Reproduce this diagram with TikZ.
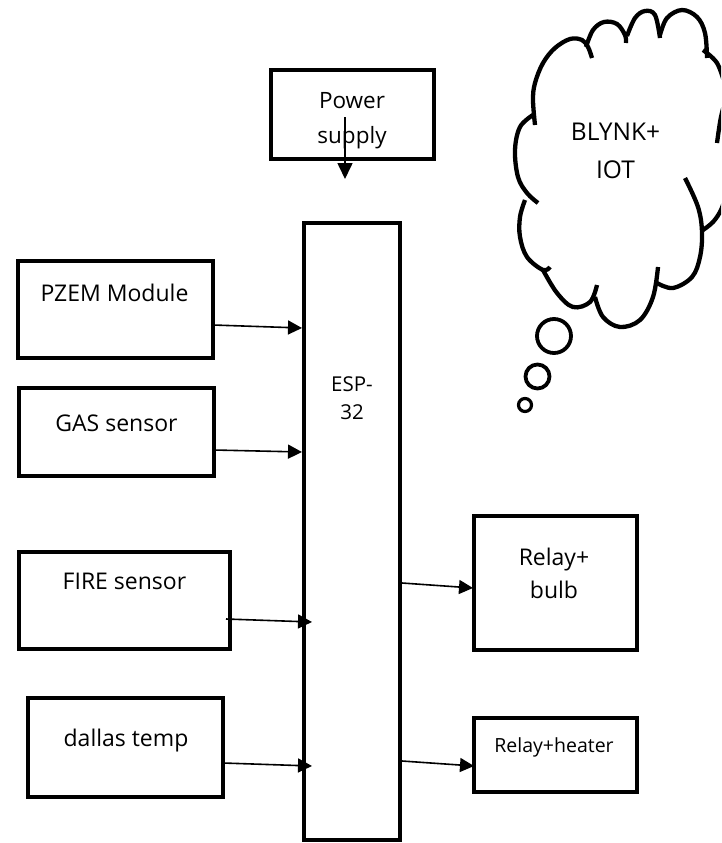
\documentclass[tikz,border=0pt]{standalone}
\usepackage{fontspec}
\setmainfont{Open Sans}
\usetikzlibrary{arrows.meta}
\begin{document}
\begin{tikzpicture}[x=1pt,y=-1pt,
  box/.style={draw, line width=4.5pt, outer sep=0pt, inner sep=0pt},
  lbl/.style={anchor=base, align=center, inner sep=0pt, font=\fontsize{23}{27}\selectfont},
  conn/.style={line width=1.6pt, -{Triangle[length=14pt,width=14pt]}},
  cloudline/.style={line width=4.3pt},
  bubble/.style={draw, circle, line width=3.8pt, inner sep=0pt}]
\useasboundingbox (0,0) rectangle (721,843);
% boxes
\node[box, minimum width=163pt, minimum height=89pt] (power) at (352.5,114.5) {};
\node[box, minimum width=96pt, minimum height=617pt] (esp) at (352,531.5) {};
\node[box, minimum width=195pt, minimum height=97pt] (pzem) at (115.5,309.5) {};
\node[box, minimum width=195pt, minimum height=88pt] (gas) at (116.5,432) {};
\node[box, minimum width=211pt, minimum height=97pt] (fire) at (124.5,600.5) {};
\node[box, minimum width=195pt, minimum height=99pt] (dallas) at (125.5,747.5) {};
\node[box, minimum width=163pt, minimum height=134pt] (bulb) at (555.5,583) {};
\node[box, minimum width=163pt, minimum height=74pt] (heater) at (555.5,755) {};
% texts (base anchor = baseline of the last line)
\node[lbl, font=\fontsize{22.5}{35}\selectfont] (powert) at (352,143) {Power\\supply};
\node[lbl, font=\fontsize{20.5}{28}\selectfont] (espt) at (352,419) {ESP-\\32};
\node[lbl] (pzemt) at (114.5,301) {PZEM Module};
\node[lbl] (gast) at (116.5,431) {GAS sensor};
\node[lbl] (firet) at (124.5,589) {FIRE sensor};
\node[lbl] (dallast) at (126,746) {dallas temp};
\node[lbl, font=\fontsize{23}{33}\selectfont] (bulbt) at (554,598) {Relay+\\bulb};
\node[lbl, font=\fontsize{19.5}{23}\selectfont] (heatert) at (554,752) {Relay+heater};
% connectors
\draw[line width=1.6pt, -{Triangle[length=16pt,width=15pt]}] ([xshift=-7.5pt,yshift=-2.5pt]power.center) -- ([xshift=-7pt,yshift=44pt]esp.north);
\draw[conn] ([yshift=-15.5pt]pzem.east) -- ([xshift=-2pt,yshift=203.5pt]esp.west);
\draw[conn] ([yshift=-18pt]gas.east) -- ([xshift=-2pt,yshift=79.5pt]esp.west);
\draw[conn] ([xshift=-4pt,yshift=-18.5pt]fire.east) -- ([xshift=8pt,yshift=-90.5pt]esp.west);
\draw[conn] ([yshift=-15.5pt]dallas.east) -- ([xshift=8pt,yshift=-234.5pt]esp.west);
\draw[conn] ([xshift=2pt,yshift=-51.5pt]esp.east) -- ([xshift=-1pt,yshift=-5pt]bulb.west);
\draw[conn] ([xshift=2pt,yshift=-229.5pt]esp.east) -- ([yshift=-11pt]heater.west);
% cloud
\begin{scope}
\clip (0,0) rectangle (721,843);
\draw[cloudline] plot[smooth, tension=0.6] coordinates {(535,125) (533,100) (535,83) (543,63) (555,48) (570,39) (582,40) (588,47) (592,58)};
\draw[cloudline] plot[smooth, tension=0.6] coordinates {(586,47) (593,30) (604,22) (617,24) (625,35) (626,43)};
\draw[cloudline] plot[smooth, tension=0.6] coordinates {(627,36) (635,18) (645,11) (655,15) (660,38)};
\draw[cloudline] plot[smooth, tension=0.6] coordinates {(660,35) (667,18) (682,10) (697,17) (705,33) (707,58)};
\draw[cloudline] plot[smooth, tension=0.6] coordinates {(703,50) (717,63) (725,85)};
\draw[cloudline] plot[smooth, tension=0.6] coordinates {(727,95) (721,117) (717,143)};
\draw[cloudline] plot[smooth, tension=0.6] coordinates {(703,230) (713,222) (721,210) (726,195)};
\draw[cloudline] plot[smooth, tension=0.6] coordinates {(657,283) (673,288) (692,277) (700,257) (702,232) (698,207) (685,178)};
\draw[cloudline] plot[smooth, tension=0.6] coordinates {(595,297) (603,317) (620,327) (640,320) (653,297) (658,267)};
\draw[cloudline] plot[smooth, tension=0.6] coordinates {(543,270) (557,293) (573,307) (590,302) (597,285)};
\draw[cloudline] plot[smooth, tension=0.6] coordinates {(525,200) (520,217) (520,237) (527,257) (543,270) (550,267)};
\draw[cloudline] plot[smooth, tension=0.6] coordinates {(533,115) (520,127) (515,150) (518,177) (527,193) (538,203)};
\end{scope}
\node[lbl, font=\fontsize{24.5}{38}\selectfont] (cloudt) at (615.5,178) {BLYNK+\\IOT};
\node[bubble, minimum size=34pt] (b1) at (554,336) {};
\node[bubble, minimum size=24pt] (b2) at (537.5,376.5) {};
\node[bubble, line width=3.2pt, minimum size=13pt] (b3) at (525,405) {};
\end{tikzpicture}
\end{document}
